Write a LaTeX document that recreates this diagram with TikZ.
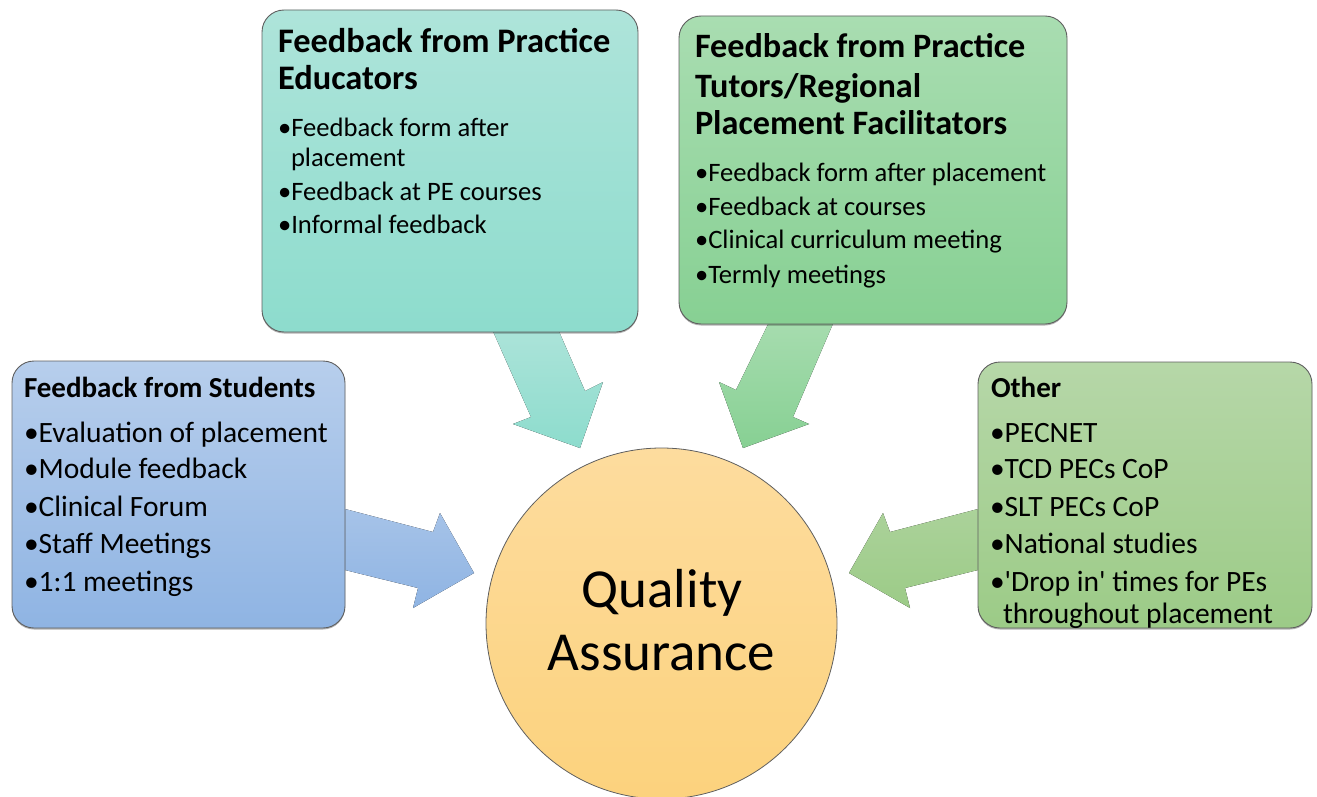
\documentclass[tikz,border=0pt]{standalone}
\usepackage{fontspec}
\setmainfont{Carlito}[Ligatures=TeXOff]
\usetikzlibrary{shadows}
\definecolor{stuT}{RGB}{183,206,236}\definecolor{stuB}{RGB}{143,180,227}
\definecolor{peT}{RGB}{174,228,218}\definecolor{peB}{RGB}{141,220,205}
\definecolor{ptT}{RGB}{169,221,177}\definecolor{ptB}{RGB}{135,208,147}
\definecolor{otT}{RGB}{182,215,168}\definecolor{otB}{RGB}{156,203,135}
\definecolor{qaT}{RGB}{253,220,158}\definecolor{qaB}{RGB}{252,210,125}
\definecolor{edge}{RGB}{95,95,95}
\tikzset{
  box/.style={draw=edge, line width=0.9pt, rounded corners=22pt, inner sep=0pt,
    drop shadow={shadow xshift=0pt, shadow yshift=-1.5pt, fill=black, opacity=0.3}},
  txt/.style={anchor=base west, inner sep=0pt, outer sep=0pt},
  hA/.style={txt, font=\fontsize{29}{33}\selectfont\bfseries},
  hB/.style={txt, font=\fontsize{34.4}{40}\selectfont\bfseries},
  hC/.style={txt, font=\fontsize{34.2}{40}\selectfont\bfseries},
  bA/.style={txt, font=\fontsize{29.5}{34}\selectfont},
  bB/.style={txt, font=\fontsize{26.6}{30}\selectfont},
  qa/.style={anchor=base, inner sep=0pt, font=\fontsize{55}{64}\selectfont},
}
\begin{document}
\begin{tikzpicture}[x=1pt,y=-1pt]
\useasboundingbox (0,0) rectangle (1317,797);
% block arrows (behind boxes)
\fill[top color=stuT!60!stuB, bottom color=stuB] (330,505) -- (345,509) -- (433,532) -- (440,513) -- (474,573) -- (413,608) -- (418,588) -- (345,570) -- (330,566) -- cycle;
\fill[top color=otT!60!otB, bottom color=otB] (993,505) -- (978,509) -- (890,532) -- (883,513) -- (849,573) -- (910,608) -- (905,588) -- (978,570) -- (993,566) -- cycle;
\fill[top color=peT, bottom color=peB] (488,320) -- (554,320) -- (585,391) -- (603,382) -- (580,448) -- (513,424) -- (531,417) -- cycle;
\fill[top color=ptT, bottom color=ptB] (774,312) -- (838,312) -- (793,417) -- (809,424) -- (743,448) -- (719,382) -- (736,390) -- cycle;
% boxes
\node[box, top color=stuT, bottom color=stuB, minimum width=333pt, minimum height=267pt] (stu) at (178.5,494.5) {};
\node[box, top color=peT, bottom color=peB, minimum width=376pt, minimum height=322pt] (pe) at (450,171) {};
\node[box, top color=ptT, bottom color=ptB, minimum width=388pt, minimum height=308pt] (pt) at (873,170) {};
\node[box, top color=otT, bottom color=otB, minimum width=334pt, minimum height=266pt] (ot) at (1145,495) {};
\node[circle, draw=edge, line width=0.8pt, top color=qaT, bottom color=qaB, minimum size=351pt, inner sep=0pt] (qa) at (661.5,623.5) {};
% students text
\node[hA] (s0) at (24,397) {Feedback from Students};
\node[bA] (s1) at (24,442) {•Evaluation of placement};
\node[bA] (s2) at (24,478) {•Module feedback};
\node[bA] (s3) at (24,516) {•Clinical Forum};
\node[bA] (s4) at (24,553) {•Staff Meetings};
\node[bA] (s5) at (24,591) {•1:1 meetings};
% practice educators text
\node[hB] (p0) at (278,53) {Feedback from Practice};
\node[hB] (p1) at (278,90) {Educators};
\node[bB] (p2) at (278,137) {•Feedback form after};
\node[bB] (p3) at (291,166) {placement};
\node[bB] (p4) at (278,200) {•Feedback at PE courses};
\node[bB] (p5) at (278,233) {•Informal feedback};
% practice tutors text
\node[hC] (t0) at (695,58) {Feedback from Practice};
\node[hC] (t1) at (695,98) {Tutors/Regional};
\node[hC] (t2) at (695,135) {Placement Facilitators};
\node[bB] (t3) at (695,182) {•Feedback form after placement};
\node[bB] (t4) at (695,215) {•Feedback at courses};
\node[bB] (t5) at (695,248) {•Clinical curriculum meeting};
\node[bB] (t6) at (695,283) {•Termly meetings};
% other text
\node[hA] (o0) at (991,397) {Other};
\node[bA] (o1) at (990,442) {•PECNET};
\node[bA] (o2) at (990,478) {•TCD PECs CoP};
\node[bA] (o3) at (990,516) {•SLT PECs CoP};
\node[bA] (o4) at (990,553) {•National studies};
\node[bA] (o5) at (990,591) {•'Drop in' times for PEs};
\node[bA] (o6) at (1003,623) {throughout placement};
% centre
\node[qa] (q1) at (662,607) {Quality};
\node[qa] (q2) at (661.5,670) {Assurance};
\end{tikzpicture}
\end{document}
